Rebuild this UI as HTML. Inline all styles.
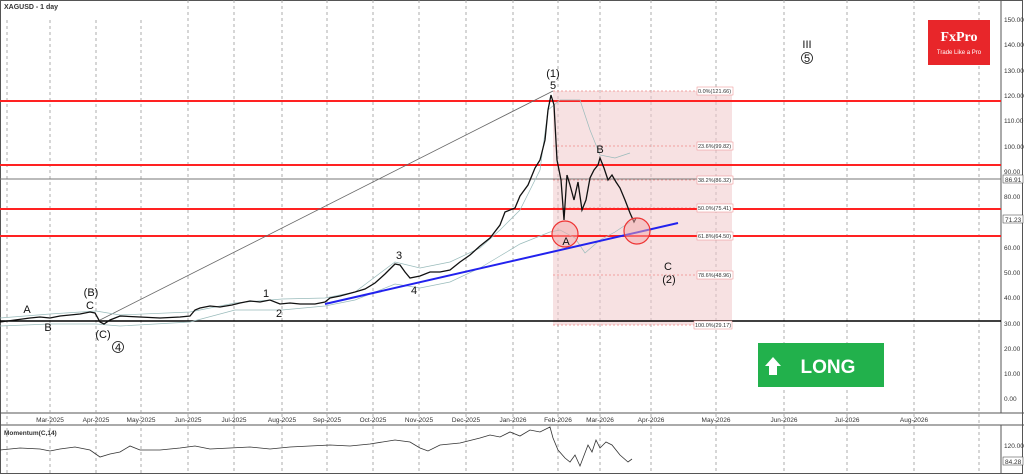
<!DOCTYPE html>
<html><head><meta charset="utf-8"><style>
body{margin:0;background:#fff;}
svg{display:block;font-family:"Liberation Sans",sans-serif;}
</style></head><body>
<svg width="1024" height="474" viewBox="0 0 1024 474" xmlns="http://www.w3.org/2000/svg">
<rect width="1024" height="474" fill="#fff"/>
<rect x="0.5" y="0.5" width="1022" height="473" fill="none" stroke="#555"/>
<line x1="0" y1="413" x2="1024" y2="413" stroke="#555"/>
<line x1="0" y1="425" x2="1024" y2="425" stroke="#555"/>
<line x1="1001" y1="0" x2="1001" y2="413" stroke="#555"/>
<line x1="1001" y1="425" x2="1001" y2="474" stroke="#555"/>
<g stroke="#999" stroke-dasharray="3,3" stroke-width="0.8">
<line x1="7" y1="20" x2="7" y2="474"/><line x1="50" y1="20" x2="50" y2="474"/><line x1="96" y1="20" x2="96" y2="474"/><line x1="141" y1="20" x2="141" y2="474"/><line x1="188" y1="0" x2="188" y2="474"/><line x1="234" y1="0" x2="234" y2="474"/><line x1="282" y1="0" x2="282" y2="474"/><line x1="327" y1="0" x2="327" y2="474"/><line x1="373" y1="0" x2="373" y2="474"/><line x1="419" y1="0" x2="419" y2="474"/><line x1="466" y1="0" x2="466" y2="474"/><line x1="513" y1="0" x2="513" y2="474"/><line x1="558" y1="0" x2="558" y2="474"/><line x1="600" y1="0" x2="600" y2="474"/><line x1="651" y1="0" x2="651" y2="474"/><line x1="716" y1="0" x2="716" y2="474"/><line x1="784" y1="0" x2="784" y2="474"/><line x1="847" y1="0" x2="847" y2="474"/><line x1="914" y1="0" x2="914" y2="474"/><line x1="979" y1="0" x2="979" y2="474"/>
</g>
<text x="4" y="9" font-size="7" font-weight="bold" fill="#333">XAGUSD - 1 day</text>
<!-- fib box -->
<rect x="553" y="91" width="179" height="234" fill="#f1c9cb" fill-opacity="0.55"/>
<g stroke="#e88" stroke-dasharray="2,2" stroke-width="0.7">
<line x1="553" y1="91" x2="732" y2="91"/><line x1="553" y1="146" x2="732" y2="146"/><line x1="553" y1="180" x2="732" y2="180"/><line x1="553" y1="208" x2="732" y2="208"/><line x1="553" y1="236" x2="732" y2="236"/><line x1="553" y1="275" x2="732" y2="275"/><line x1="553" y1="325" x2="732" y2="325"/>
</g>
<!-- horizontal lines -->
<g stroke="#f22" stroke-width="2">
<line x1="0" y1="101" x2="1001" y2="101"/><line x1="0" y1="165" x2="1001" y2="165"/><line x1="0" y1="209" x2="1001" y2="209"/><line x1="0" y1="236" x2="1001" y2="236"/>
</g>
<line x1="0" y1="179" x2="1001" y2="179" stroke="#777" stroke-width="1"/>
<line x1="0" y1="321" x2="1001" y2="321" stroke="#000" stroke-width="1.5"/>
<g font-size="5.5" fill="#333">
<rect x="697" y="87" width="36" height="8" fill="#fff" stroke="#e88" stroke-width="0.5"/><text x="698" y="93">0.0%(121.66)</text>
<rect x="697" y="142" width="36" height="8" fill="#fff" stroke="#e88" stroke-width="0.5"/><text x="698" y="148">23.6%(99.82)</text>
<rect x="697" y="176" width="36" height="8" fill="#fff" stroke="#e88" stroke-width="0.5"/><text x="698" y="182">38.2%(86.32)</text>
<rect x="697" y="204" width="36" height="8" fill="#fff" stroke="#e88" stroke-width="0.5"/><text x="698" y="210">50.0%(75.41)</text>
<rect x="697" y="232" width="36" height="8" fill="#fff" stroke="#e88" stroke-width="0.5"/><text x="698" y="238">61.8%(64.50)</text>
<rect x="697" y="271" width="36" height="8" fill="#fff" stroke="#e88" stroke-width="0.5"/><text x="698" y="277">78.6%(48.96)</text>
<rect x="694" y="321" width="38" height="8" fill="#fff" stroke="#e88" stroke-width="0.5"/><text x="695" y="327">100.0%(29.17)</text>
</g>
<line x1="100" y1="320" x2="553" y2="91" stroke="#666" stroke-width="0.8"/>
<!-- bands -->
<polyline fill="none" stroke="#9bb" stroke-width="0.7" points="0,318 50,314 96,311 120,315 190,312 235,303 282,299 325,298 355,292 395,262 420,268 450,262 480,248 500,230 520,210 540,170 548,110 560,100 580,100 590,130 600,155 615,158 630,153"/>
<polyline fill="none" stroke="#9bb" stroke-width="0.7" points="0,326 50,324 96,324 120,326 190,322 235,310 282,310 325,306 355,300 395,284 420,288 450,282 480,268 500,256 520,244 540,236 550,232 560,230 575,238 585,253 600,240 615,232 630,222"/>
<!-- price -->
<polyline fill="none" stroke="#111" stroke-width="1.3" points="0,322 15,320 30,318 40,317 50,318 60,316 70,315 80,314 90,312 95,313 100,322 104,324 110,320 120,316 140,317 160,318 180,317 190,316 195,310 200,308 210,306 220,307 232,305 240,303 250,301 260,302 270,300 280,304 290,303 300,304 315,304 325,302 330,298 340,296 355,292 365,289 375,283 385,274 395,264 400,265 405,272 410,278 420,276 430,272 440,272 450,270 460,262 470,255 480,246 490,238 500,225 505,212 515,208 520,196 528,185 535,168 540,160 545,140 548,110 551,95 554,105 557,160 561,180 564,220 567,175 570,185 574,200 578,182 582,210 586,200 590,178 594,170 598,165 600,158 604,168 608,180 612,175 616,182 620,188 625,200 630,213 634,222 636,218"/>
<!-- blue -->
<line x1="325" y1="304" x2="678" y2="223" stroke="#22e" stroke-width="2"/>
<circle cx="565" cy="234" r="13" fill="#f4aaaa" fill-opacity="0.5" stroke="#e33" stroke-width="1.2"/>
<circle cx="637" cy="231" r="13" fill="#f4aaaa" fill-opacity="0.5" stroke="#e33" stroke-width="1.2"/>
<!-- labels -->
<g font-size="11" fill="#111" text-anchor="middle">
<text x="27" y="313">A</text><text x="48" y="331">B</text><text x="91" y="296">(B)</text><text x="90" y="309">C</text><text x="103" y="338">(C)</text>
<text x="266" y="297">1</text><text x="279" y="317">2</text><text x="399" y="259">3</text><text x="414" y="294">4</text>
<text x="553" y="77">(1)</text><text x="553" y="89">5</text><text x="600" y="153">B</text><text x="566" y="245">A</text>
<text x="668" y="270">C</text><text x="669" y="283">(2)</text>
<text x="807" y="48">III</text><text x="807" y="62">5</text><text x="118" y="351">4</text>
</g>
<circle cx="118" cy="347" r="5.5" fill="none" stroke="#111" stroke-width="0.8"/>
<circle cx="807" cy="58" r="5.5" fill="none" stroke="#111" stroke-width="0.8"/>
<!-- y axis -->
<g font-size="6.5" fill="#333">
<text x="1004" y="22">150.00</text><text x="1004" y="47">140.00</text><text x="1004" y="73">130.00</text><text x="1004" y="98">120.00</text><text x="1004" y="123">110.00</text><text x="1004" y="149">100.00</text><text x="1004" y="174">90.00</text><text x="1004" y="199">80.00</text><text x="1004" y="250">60.00</text><text x="1004" y="275">50.00</text><text x="1004" y="300">40.00</text><text x="1004" y="326">30.00</text><text x="1004" y="351">20.00</text><text x="1004" y="376">10.00</text><text x="1004" y="401">0.00</text>
<rect x="1003" y="175" width="20" height="8" fill="#fff" stroke="#333" stroke-width="0.5"/><text x="1005" y="182">86.91</text>
<rect x="1003" y="215" width="20" height="8" fill="#fff" stroke="#333" stroke-width="0.5"/><text x="1005" y="222">71.23</text>
<text x="1004" y="448">120.00</text>
<rect x="1003" y="457" width="20" height="8" fill="#fff" stroke="#333" stroke-width="0.5"/><text x="1005" y="464">84.28</text>
</g>
<!-- x axis -->
<g font-size="6.5" fill="#333" text-anchor="middle">
<text x="50" y="422">Mar-2025</text><text x="96" y="422">Apr-2025</text><text x="141" y="422">May-2025</text><text x="188" y="422">Jun-2025</text><text x="234" y="422">Jul-2025</text><text x="282" y="422">Aug-2025</text><text x="327" y="422">Sep-2025</text><text x="373" y="422">Oct-2025</text><text x="419" y="422">Nov-2025</text><text x="466" y="422">Dec-2025</text><text x="513" y="422">Jan-2026</text><text x="558" y="422">Feb-2026</text><text x="600" y="422">Mar-2026</text><text x="651" y="422">Apr-2026</text><text x="716" y="422">May-2026</text><text x="784" y="422">Jun-2026</text><text x="847" y="422">Jul-2026</text><text x="914" y="422">Aug-2026</text>
</g>
<text x="4" y="435" font-size="6.5" font-weight="bold" fill="#333">Momentum(C,14)</text>
<polyline fill="none" stroke="#333" stroke-width="0.8" points="0,450 20,448 40,449 50,451 60,449 75,447 90,450 100,457 110,454 120,452 130,446 140,450 160,450 180,448 195,446 210,449 230,448 250,447 270,449 290,447 310,446 330,445 350,446 370,444 395,440 410,442 420,448 428,451 440,445 460,443 480,438 490,435 500,437 510,432 520,436 530,430 540,432 550,427 553,438 558,450 565,458 570,462 575,455 580,466 588,445 592,452 596,440 600,448 606,442 612,445 620,455 628,462 632,459"/>
<!-- FxPro -->
<rect x="928" y="20" width="62" height="45" fill="#e8262a"/>
<text x="959" y="41" font-size="14" fill="#fff" text-anchor="middle" font-family="Liberation Serif,serif" font-weight="bold">FxPro</text>
<text x="959" y="54" font-size="6" fill="#fff" text-anchor="middle">Trade Like a Pro</text>
<!-- LONG -->
<rect x="758" y="343" width="126" height="44" fill="#22b14c"/>
<path d="M773,357 L781,366 L777,366 L777,375 L769,375 L769,366 L765,366 Z" fill="#fff"/>
<text x="828" y="373" font-size="19" font-weight="bold" fill="#fff" text-anchor="middle">LONG</text>
</svg>
</body></html>
